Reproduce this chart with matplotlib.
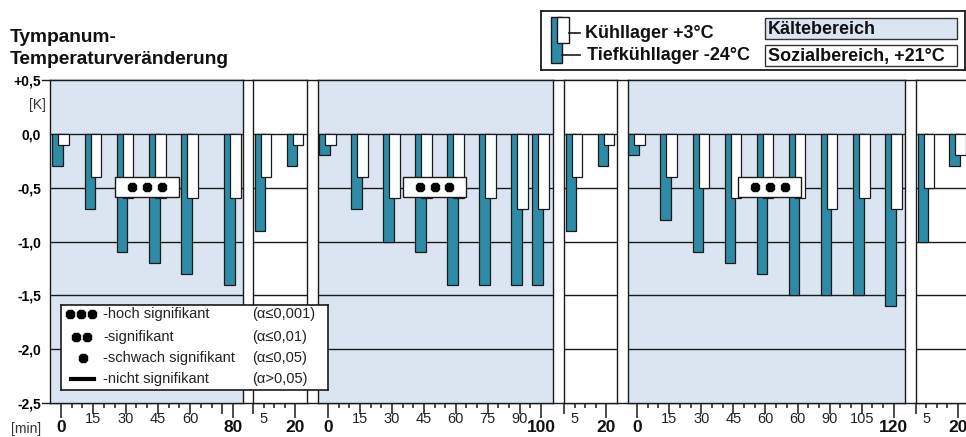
import numpy as np
import matplotlib
matplotlib.use('Agg')
import matplotlib.pyplot as plt
from matplotlib.patches import Rectangle

plt.rcParams['font.family'] = ['Liberation Sans', 'DejaVu Sans']

# --- data (minutes after entering, change of tympanum temperature in K) ---
times_cold1 = [0, 15, 30, 45, 60, 80]
kuehl_cold1 = [-0.1, -0.4, -0.6, -0.6, -0.6, -0.6]
tiefk_cold1 = [-0.3, -0.7, -1.1, -1.2, -1.3, -1.4]

times_soz = [5, 20]
kuehl_soz1 = [-0.4, -0.1]
tiefk_soz1 = [-0.9, -0.3]

times_cold2 = [0, 15, 30, 45, 60, 75, 90, 100]
kuehl_cold2 = [-0.1, -0.4, -0.6, -0.6, -0.6, -0.6, -0.7, -0.7]
tiefk_cold2 = [-0.2, -0.7, -1.0, -1.1, -1.4, -1.4, -1.4, -1.4]

kuehl_soz2 = [-0.4, -0.1]
tiefk_soz2 = [-0.9, -0.3]

times_cold3 = [0, 15, 30, 45, 60, 75, 90, 105, 120]
kuehl_cold3 = [-0.1, -0.4, -0.5, -0.6, -0.6, -0.6, -0.7, -0.6, -0.7]
tiefk_cold3 = [-0.2, -0.8, -1.1, -1.2, -1.3, -1.5, -1.5, -1.5, -1.6]

kuehl_soz3 = [-0.5, -0.2]
tiefk_soz3 = [-1.0, -0.3]

# position of the "***" marker per cold phase (minutes)
sig_cold = [40, 50, 62]

# x tick labels
small_cold1 = {15: '15', 30: '30', 45: '45', 60: '60'}
big_cold1 = {0: '0', 80: '80'}
small_cold2 = {15: '15', 30: '30', 45: '45', 60: '60', 75: '75', 90: '90'}
big_cold2 = {0: '0', 100: '100'}
small_cold3 = {15: '15', 30: '30', 45: '45', 60: '60', 75: '60', 90: '90', 105: '105'}
big_cold3 = {0: '0', 120: '120'}
small_soz = {5: '5'}
big_soz = {20: '20'}

ytick_vals = [0.5, 0.0, -0.5, -1.0, -1.5, -2.0, -2.5]
ytick_labels = ['+0,5', '0,0', '-0,5', '-1,0', '-1,5', '-2,0', '-2,5']

TEAL = '#2e8ba6'
PALE = '#dbe5f1'
EDGE = '#1a1a1a'
W, H = 966, 437
TOP, BOT = 80, 403
BW = 4.9


def box(x0, y0, x1, y1):
    return [x0 / W, 1 - y1 / H, (x1 - x0) / W, (y1 - y0) / H]


fig = plt.figure(figsize=(W / 100, H / 100), dpi=100)

# continuous frame lines at +0,5 and -2,5
bg = fig.add_axes(box(42, TOP, W, BOT))
bg.set_xlim(0, 1)
bg.set_ylim(-2.5, 0.5)
bg.axis('off')
for yv in (0.5, -2.5):
    bg.axhline(yv, color=EDGE, lw=1.0, clip_on=False)

# (px left, px right, xlim, colour, times, kuehl, tiefk, small labels, big labels, sig)
panels = [
    (50, 243, (-5.1, 84.6), PALE, times_cold1, kuehl_cold1, tiefk_cold1, small_cold1, big_cold1, sig_cold[0]),
    (253, 307, (0, 25.5), 'white', times_soz, kuehl_soz1, tiefk_soz1, small_soz, big_soz, None),
    (318, 553, (-4.7, 105.6), PALE, times_cold2, kuehl_cold2, tiefk_cold2, small_cold2, big_cold2, sig_cold[1]),
    (564, 617, (0, 25.0), 'white', times_soz, kuehl_soz2, tiefk_soz2, small_soz, big_soz, None),
    (628, 905, (-4.2, 125.2), PALE, times_cold3, kuehl_cold3, tiefk_cold3, small_cold3, big_cold3, sig_cold[2]),
    (916, 968, (0, 24.8), 'white', times_soz, kuehl_soz3, tiefk_soz3, small_soz, big_soz, None),
]

for i, (x0, x1, xlim, col, times, kuehl, tiefk, small, big, sig) in enumerate(panels):
    ax = fig.add_axes(box(x0, TOP, x1, BOT))
    ax.set_facecolor(col)
    ax.set_xlim(xlim)
    ax.set_ylim(-2.5, 0.5)
    for g in [0, -0.5, -1.0, -1.5, -2.0]:
        ax.axhline(g, color=EDGE, lw=1.0, zorder=1)
    t = np.array(times)
    ax.bar(t - 1.6, tiefk, width=BW, color=TEAL, edgecolor=EDGE, lw=0.9, zorder=2)
    ax.bar(t + 1.2, kuehl, width=BW, color='white', edgecolor=EDGE, lw=0.9, zorder=3)
    for s in ax.spines.values():
        s.set_color(EDGE)
        s.set_linewidth(1.0)

    # x ticks
    end = max(big)
    if col == 'white':
        majors = [0, end]
        ends = [end]
    else:
        majors = list(range(0, end, 15)) + [end]
        ends = [0, end]
    minors = [m for m in range(0, end + 1, 5) if m not in majors]
    ax.set_xticks(majors)
    ax.set_xticks(minors, minor=True)
    ax.tick_params(axis='x', which='both', direction='out', width=1.1,
                   color=EDGE, labelbottom=False)
    ax.tick_params(axis='x', which='major', length=7.9)
    ax.tick_params(axis='x', which='minor', length=3.6)
    for tk, loc in zip(ax.xaxis.get_major_ticks(), majors):
        if loc in ends:
            tk.tick1line.set_markersize(10.8)
    xt = ax.get_xaxis_transform()
    for pos, lab in small.items():
        ax.text(pos, -0.028, lab, transform=xt, ha='center', va='top',
                fontsize=10.5, color='#222', clip_on=False)
    for pos, lab in big.items():
        ax.text(pos, -0.052, lab, transform=xt, ha='center', va='top',
                fontsize=12.5, fontweight='bold', color='#111', clip_on=False)

    # y axis
    if i == 0:
        ax.set_yticks(ytick_vals, ytick_labels)
        ax.tick_params(axis='y', length=0, pad=6.5, labelsize=10)
        for lab in ax.get_yticklabels():
            lab.set_fontweight('bold')
    else:
        ax.set_yticks([])

    # significance marker
    if sig is not None:
        ax.add_patch(Rectangle((sig - 14.7, -0.59), 29.4, 0.19, facecolor='white',
                               edgecolor=EDGE, lw=1.0, zorder=4))
        ax.plot([sig - 7, sig, sig + 7], [-0.495] * 3, ls='none', marker='8',
                ms=7, color='black', zorder=5)

# title and axis units
fig.text(10 / W, 1 - 42 / H, 'Tympanum-', fontsize=13.8, fontweight='bold', color='#111')
fig.text(10 / W, 1 - 64 / H, 'Temperaturveränderung', fontsize=13.8, fontweight='bold', color='#111')
fig.text(46 / W, 1 - 105 / H, '[K]', ha='right', va='center', fontsize=10, color='#333')
fig.text(41 / W, 1 - 429 / H, '[min]', ha='right', va='center', fontsize=10, color='#333')

# significance legend
lg = fig.add_axes(box(61, 305, 328, 390), zorder=10)
lg.set_xlim(0, 267)
lg.set_ylim(85, 0)
lg.set_xticks([])
lg.set_yticks([])
for s in lg.spines.values():
    s.set_color(EDGE)
    s.set_linewidth(1.2)
rows = [9, 32, 53, 74]
dots = [[9, 20, 31], [15, 26], [22]]
for y, xs in zip(rows, dots):
    lg.plot(xs, [y] * len(xs), ls='none', marker='8', ms=7, color='black')
lg.plot([10, 33], [rows[3], rows[3]], color='black', lw=3)
sig_text = ['-hoch signifikant', '-signifikant', '-schwach signifikant', '-nicht signifikant']
sig_alpha = ['(α≤0,001)', '(α≤0,01)', '(α≤0,05)', '(α>0,05)']
for y, a, b in zip(rows, sig_text, sig_alpha):
    lg.text(42, y, a, va='center', fontsize=10.5, color='#222')
    lg.text(191, y, b, va='center', fontsize=10.5, color='#222')

# series / area legend
tl = fig.add_axes(box(541, 11, 965, 70))
tl.set_xlim(0, 424)
tl.set_ylim(59, 0)
tl.set_xticks([])
tl.set_yticks([])
for s in tl.spines.values():
    s.set_color(EDGE)
    s.set_linewidth(1.3)
tl.add_patch(Rectangle((10, 6), 11, 46, facecolor=TEAL, edgecolor=EDGE, lw=1.0))
tl.add_patch(Rectangle((16, 6), 12, 26, facecolor='white', edgecolor=EDGE, lw=1.0))
tl.plot([28, 39], [22, 22], color=EDGE, lw=1.2)
tl.plot([21, 39], [44, 44], color=EDGE, lw=1.2)
tl.text(44, 20, 'Kühllager +3°C', va='center_baseline', fontsize=13, fontweight='bold', color='#111')
tl.text(46, 42, 'Tiefkühllager -24°C', va='center_baseline', fontsize=13, fontweight='bold', color='#111')
tl.add_patch(Rectangle((224, 7), 192, 21, facecolor=PALE, edgecolor='#333', lw=1.0))
tl.add_patch(Rectangle((224, 34), 192, 21, facecolor='white', edgecolor='#333', lw=1.0))
tl.text(227, 16.5, 'Kältebereich', va='center_baseline', fontsize=13, fontweight='bold', color='#111')
tl.text(227, 43.5, 'Sozialbereich, +21°C', va='center_baseline', fontsize=13, fontweight='bold', color='#111')

fig.savefig('out.png', dpi=100)
